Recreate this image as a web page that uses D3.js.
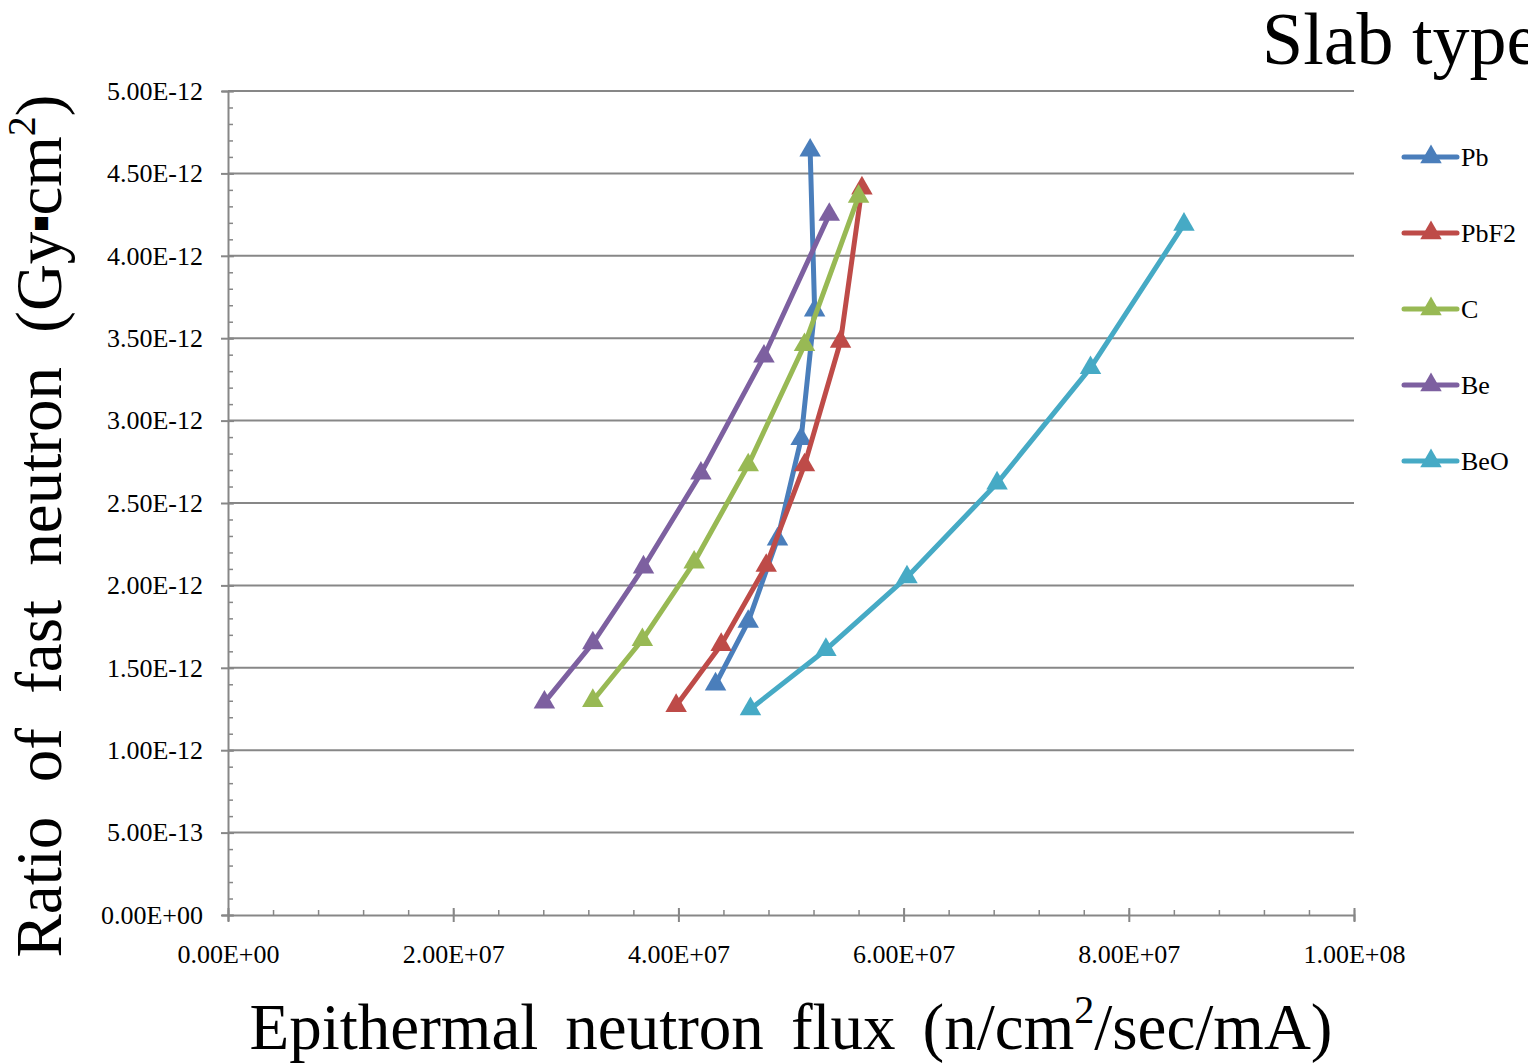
<!DOCTYPE html>
<html>
<head>
<meta charset="utf-8">
<script src="https://cdn.jsdelivr.net/npm/d3@7"></script>
<style>
  body { margin: 0; background: #fff; }
  svg { display: block; font-family: "Liberation Serif", "Times New Roman", serif; }
</style>
</head>
<body>
<svg width="1528" height="1064"></svg>
<script>
// values
let seriesNames = ["Pb", "PbF2", "C", "Be", "BeO"];
let seriesColors = ["#4a7ebb", "#be4b48", "#98b954", "#7d60a0", "#46aac5"];

let pbX = [4.33e7, 4.62e7, 4.88e7, 5.09e7, 5.21e7, 5.17e7];
let pbY = [1.40e-12, 1.78e-12, 2.28e-12, 2.89e-12, 3.67e-12, 4.64e-12];

let pbf2X = [3.98e7, 4.38e7, 4.78e7, 5.12e7, 5.44e7, 5.63e7];
let pbf2Y = [1.27e-12, 1.64e-12, 2.12e-12, 2.73e-12, 3.48e-12, 4.41e-12];

let cX = [3.24e7, 3.68e7, 4.14e7, 4.62e7, 5.12e7, 5.60e7];
let cY = [1.30e-12, 1.67e-12, 2.14e-12, 2.73e-12, 3.46e-12, 4.36e-12];

let beX = [2.81e7, 3.24e7, 3.69e7, 4.20e7, 4.76e7, 5.34e7];
let beY = [1.29e-12, 1.65e-12, 2.11e-12, 2.68e-12, 3.39e-12, 4.25e-12];

let beoX = [4.64e7, 5.31e7, 6.03e7, 6.83e7, 7.66e7, 8.49e7];
let beoY = [1.25e-12, 1.61e-12, 2.05e-12, 2.62e-12, 3.32e-12, 4.19e-12];

let xTicks = [0, 2e7, 4e7, 6e7, 8e7, 1e8];
let yTicks = [0, 5e-13, 1e-12, 1.5e-12, 2e-12, 2.5e-12, 3e-12, 3.5e-12, 4e-12, 4.5e-12, 5e-12];

let allX = [pbX, pbf2X, cX, beX, beoX];
let allY = [pbY, pbf2Y, cY, beY, beoY];

let plot = {left: 228, right: 1354, top: 91, bottom: 915};
let gridColor = "#878787";

let svg = d3.select("svg");

let xScale = d3.scaleLinear().domain([0, 1e8]).range([plot.left, plot.right]);
let yScale = d3.scaleLinear().domain([0, 5e-12]).range([plot.bottom, plot.top]);

// Excel-like scientific format e.g. 5.00E-12
let sci = (v) => {
    if (v === 0) return "0.00E+00";
    let e = Math.floor(Math.log10(Math.abs(v)) + 1e-9);
    let m = v / Math.pow(10, e);
    let es = (e < 0 ? "-" : "+") + String(Math.abs(e)).padStart(2, "0");
    return m.toFixed(2) + "E" + es;
};

// gridlines
svg.append("g")
    .selectAll("line")
    .data(yTicks.slice(1))
    .enter()
    .append("line")
    .attr("x1", plot.left)
    .attr("x2", plot.right)
    .attr("y1", d => yScale(d))
    .attr("y2", d => yScale(d))
    .attr("stroke", gridColor)
    .attr("stroke-width", 2);

// minor ticks
let yMinor = d3.range(0, 51).map(i => i * 1e-13);
svg.append("g")
    .attr("transform", "translate(" + plot.left + ",0)")
    .call(d3.axisRight(yScale).tickValues(yMinor).tickSize(5).tickFormat(""))
    .call(g => g.select(".domain").remove())
    .selectAll("line").attr("stroke", gridColor).attr("stroke-width", 1.5);

let xMinor = d3.range(0, 26).map(i => i * 4e6);
svg.append("g")
    .attr("transform", "translate(0," + plot.bottom + ")")
    .call(d3.axisTop(xScale).tickValues(xMinor).tickSize(5).tickFormat(""))
    .call(g => g.select(".domain").remove())
    .selectAll("line").attr("stroke", gridColor).attr("stroke-width", 1.5);

// major axes
let yAxis = svg.append("g")
    .attr("transform", "translate(" + plot.left + ",0)")
    .call(d3.axisLeft(yScale).tickValues(yTicks).tickSize(6).tickPadding(19).tickFormat(sci));
yAxis.select(".domain").attr("stroke", gridColor).attr("stroke-width", 2);
yAxis.selectAll(".tick line").attr("stroke", gridColor).attr("stroke-width", 2).attr("x2", 6).attr("x1", -7);
yAxis.selectAll("text")
    .attr("font-family", "Liberation Serif")
    .attr("font-size", 26)
    .attr("fill", "#000");

let xAxis = svg.append("g")
    .attr("transform", "translate(0," + plot.bottom + ")")
    .call(d3.axisBottom(xScale).tickValues(xTicks).tickSize(6).tickPadding(24).tickFormat(sci));
xAxis.select(".domain").attr("stroke", gridColor).attr("stroke-width", 2);
xAxis.selectAll(".tick line").attr("stroke", gridColor).attr("stroke-width", 2).attr("y1", -7).attr("y2", 7);
xAxis.selectAll("text")
    .attr("font-family", "Liberation Serif")
    .attr("font-size", 26)
    .attr("fill", "#000");

// series
let line = d3.line().x(d => xScale(d[0])).y(d => yScale(d[1]));
let tri = d3.symbol().type(d3.symbolTriangle).size(200);

seriesNames.forEach((name, i) => {
    let pts = allX[i].map((x, j) => [x, allY[i][j]]);
    let g = svg.append("g");
    g.append("path")
        .datum(pts)
        .attr("d", line)
        .attr("fill", "none")
        .attr("stroke", seriesColors[i])
        .attr("stroke-width", 5)
        .attr("stroke-linejoin", "round");
    g.selectAll("path.m")
        .data(pts)
        .enter()
        .append("path")
        .attr("class", "m")
        .attr("d", tri)
        .attr("transform", d => "translate(" + xScale(d[0]) + "," + yScale(d[1]) + ")")
        .attr("fill", seriesColors[i]);
});

// legend
let legend = svg.append("g").attr("transform", "translate(1404,157)");
seriesNames.forEach((name, i) => {
    let row = legend.append("g").attr("transform", "translate(0," + (i * 76) + ")");
    row.append("line")
        .attr("x1", 0).attr("x2", 53)
        .attr("stroke", seriesColors[i])
        .attr("stroke-width", 5)
        .attr("stroke-linecap", "round");
    row.append("path")
        .attr("d", tri)
        .attr("transform", "translate(27,0)")
        .attr("fill", seriesColors[i]);
    row.append("text")
        .attr("x", 57)
        .attr("y", 9)
        .attr("font-size", 26)
        .attr("fill", "#000")
        .text(name);
});

// legend title, runs off the right edge
svg.append("text")
    .attr("x", 1262)
    .attr("y", 64)
    .attr("font-size", 74)
    .attr("fill", "#000")
    .text("Slab type");

// stretch the gaps between words to a target width
let fitWords = (sel, target) => {
    let natural = sel.node().getComputedTextLength();
    let gaps = (sel.text().match(/ /g) || []).length;
    sel.attr("word-spacing", (target - natural) / gaps);
};

// axis titles
let xt = svg.append("text")
    .attr("x", 791)
    .attr("y", 1049)
    .attr("text-anchor", "middle")
    .attr("font-size", 65)
    .attr("fill", "#000");
xt.append("tspan").text("Epithermal neutron flux (n/cm");
xt.append("tspan").attr("dy", -26).attr("font-size", 40).text("2");
xt.append("tspan").attr("dy", 26).text("/sec/mA)");
fitWords(xt, 1083);

let yt = svg.append("text")
    .attr("transform", "translate(61,526) rotate(-90)")
    .attr("text-anchor", "middle")
    .attr("font-size", 65)
    .attr("fill", "#000");
yt.append("tspan").text("Ratio of fast neutron (Gy");
yt.append("tspan").attr("font-family", "DejaVu Sans").attr("font-size", 17).attr("dy", -15).text("\u25A0");
yt.append("tspan").attr("dy", 15).text("cm");
yt.append("tspan").attr("dy", -26).attr("font-size", 40).text("2");
yt.append("tspan").attr("dy", 26).text(")");
fitWords(yt, 863);
</script>
</body>
</html>
